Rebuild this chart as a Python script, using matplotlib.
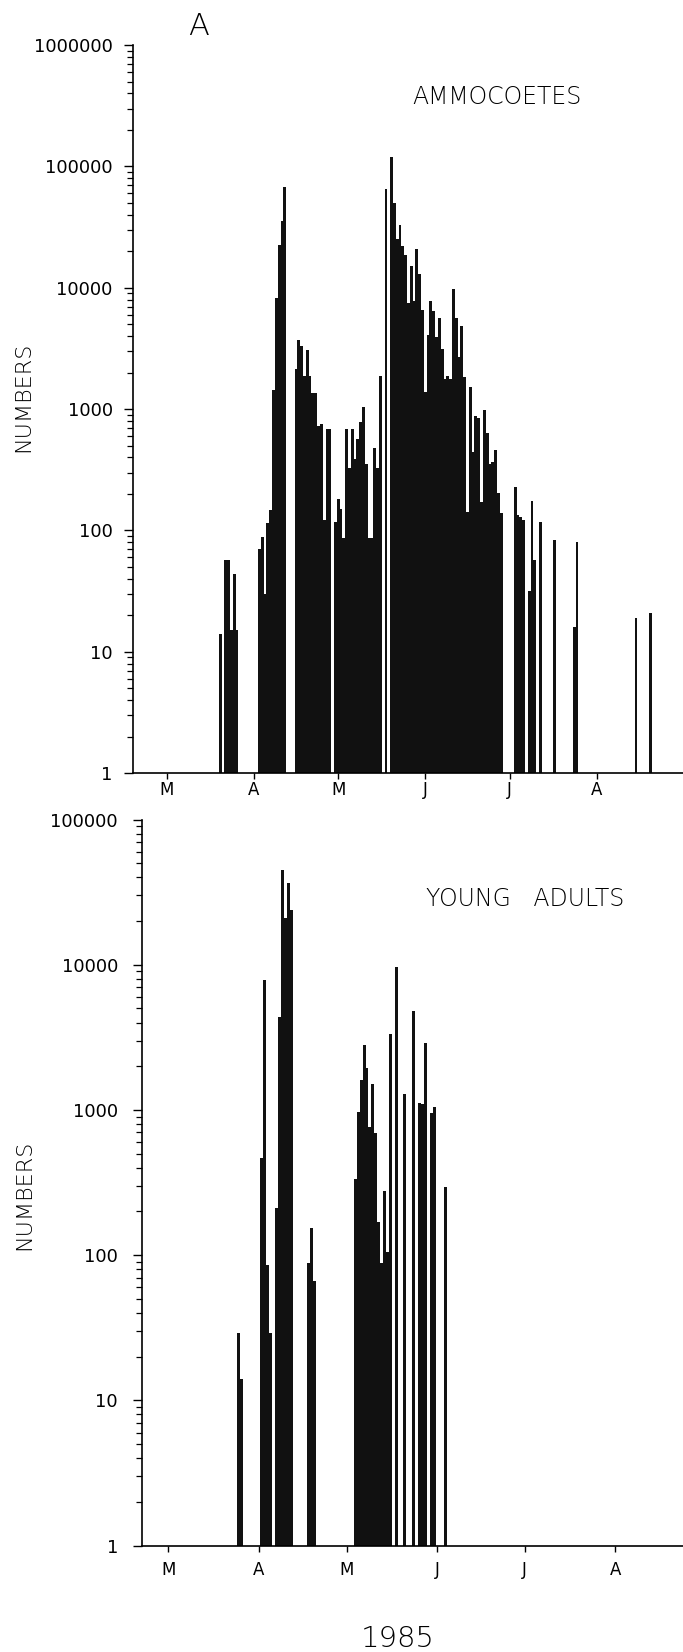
# Daily catch numbers, 1985 (log scale), two panels

import numpy as np
import matplotlib.pyplot as plt
from matplotlib.ticker import FixedLocator, LogLocator, NullFormatter

# days counted from 1 March (day 0)
month_ticks  = [14, 45, 75, 106, 136, 167]
month_labels = ["M", "A", "M", "J", "J", "A"]

# ammocoetes
amm_days = [33, 35, 36, 37, 38, 39,
            47, 48, 49, 50, 51, 52, 53, 54, 55, 56,
            60, 61, 62, 63, 64, 65, 66, 67, 68,
            69, 70, 71, 72, 74, 75, 76, 77, 78, 79, 80, 81, 82, 83, 84, 85,
            86, 87, 88, 89, 90,
            92, 94, 95, 96, 97, 98, 99, 100, 101, 102, 103, 104, 105, 106,
            107, 108, 109, 110, 111, 112, 113, 114, 115, 116, 117, 118, 119,
            120, 121, 122, 123, 124, 125, 126, 127, 128, 129, 130, 131, 132, 133,
            138, 139, 140, 141, 143, 144, 145, 147, 152, 159, 160, 181, 186]
amm_count = [14, 57, 57, 15, 44, 15,
             70, 88, 30, 115, 148, 1440, 8300, 22600, 35700, 68000,
             2130, 3700, 3300, 1870, 3090, 1870, 1370, 1370, 725,
             750, 122, 690, 690, 117, 183, 149, 87, 690, 328, 690, 388, 565, 780, 1040, 356,
             87, 87, 475, 328, 1860,
             65000, 120000, 50000, 25000, 33000, 22000, 18700, 7500, 15000, 7800, 21000, 13000, 6600, 1390,
             4100, 7800, 6400, 3900, 5600, 3150, 1780, 1870, 1780, 9700, 5600, 2700, 4800,
             1830, 143, 1520, 445, 875, 845, 170, 990, 635, 355, 365, 457, 205, 139,
             228, 135, 130, 123, 32, 174, 57, 118, 83, 16, 80, 19, 21]

# young adults
ya_days = [38, 39, 46, 47, 48, 49, 51, 52, 53, 54, 55, 56, 62, 63, 64,
           78, 79, 80, 81, 82, 83, 84, 85, 86, 87, 88, 89, 90,
           92, 95, 98, 100, 101, 102, 104, 105, 109]
ya_count = [29, 14, 470, 7900, 86, 29, 210, 4400, 45000, 21000, 36500, 24000, 89, 154, 66,
            333, 966, 1620, 2800, 1950, 760, 1520, 690, 170, 88, 277, 106, 3360,
            9700, 1280, 4800, 1120, 1100, 2870, 960, 1050, 296]

bar_col = "#111111"

fig = plt.figure(figsize=(6.83, 16.52), dpi=100)

ax1 = fig.add_axes([0.1947, 0.532, 0.8053, 0.4407])
ax2 = fig.add_axes([0.2072, 0.0644, 0.7928, 0.4395])

panels = [
    (ax1, amm_days, amm_count, 6, (2.0, 197.7), 8, 1.5),
    (ax2, ya_days, ya_count, 5, (4.8, 190.2), 10.5, 7),
]

for ax, days, counts, ndec, xl, ypad, xpad in panels:
    ax.bar(days, counts, width=1.0, color=bar_col, linewidth=0)
    ax.set_yscale("log")
    ax.set_ylim(1, 10 ** ndec)
    ax.set_xlim(*xl)

    majors = [10 ** k for k in range(ndec + 1)]
    ax.yaxis.set_major_locator(FixedLocator(majors))
    ax.set_yticklabels([str(m) for m in majors])
    ax.yaxis.set_minor_locator(LogLocator(base=10, subs=np.arange(2, 10)))
    ax.yaxis.set_minor_formatter(NullFormatter())

    ax.set_xticks(month_ticks)
    ax.set_xticklabels(month_labels)

    for s in ["top", "right"]:
        ax.spines[s].set_visible(False)
    ax.spines["left"].set_linewidth(1.2)
    ax.spines["bottom"].set_linewidth(1.2)

    ax.tick_params(axis="y", which="major", direction="out", length=6.5, width=1.0,
                   labelsize=13, pad=ypad)
    ax.tick_params(axis="y", which="minor", direction="out", length=4.5, width=0.9)
    ax.tick_params(axis="x", which="major", direction="out", length=4, width=1.0,
                   labelsize=12, pad=xpad)

fig.text(0.29, 0.9837, "A", fontsize=22, ha="center", va="center", fontweight="light")
fig.text(0.7277, 0.9413, "AMMOCOETES", fontsize=17, ha="center", va="center", fontweight="light")
fig.text(0.7687, 0.4558, "YOUNG   ADULTS", fontsize=17, ha="center", va="center", fontweight="light")
fig.text(0.034, 0.7597, "NUMBERS", fontsize=16, rotation=90, ha="center", va="center", fontweight="light")
fig.text(0.036, 0.2766, "NUMBERS", fontsize=16, rotation=90, ha="center", va="center", fontweight="light")
fig.text(0.5827, 0.0079, "1985", fontsize=21, ha="center", va="center", fontweight="light")

fig.savefig("out.png", dpi=100)
